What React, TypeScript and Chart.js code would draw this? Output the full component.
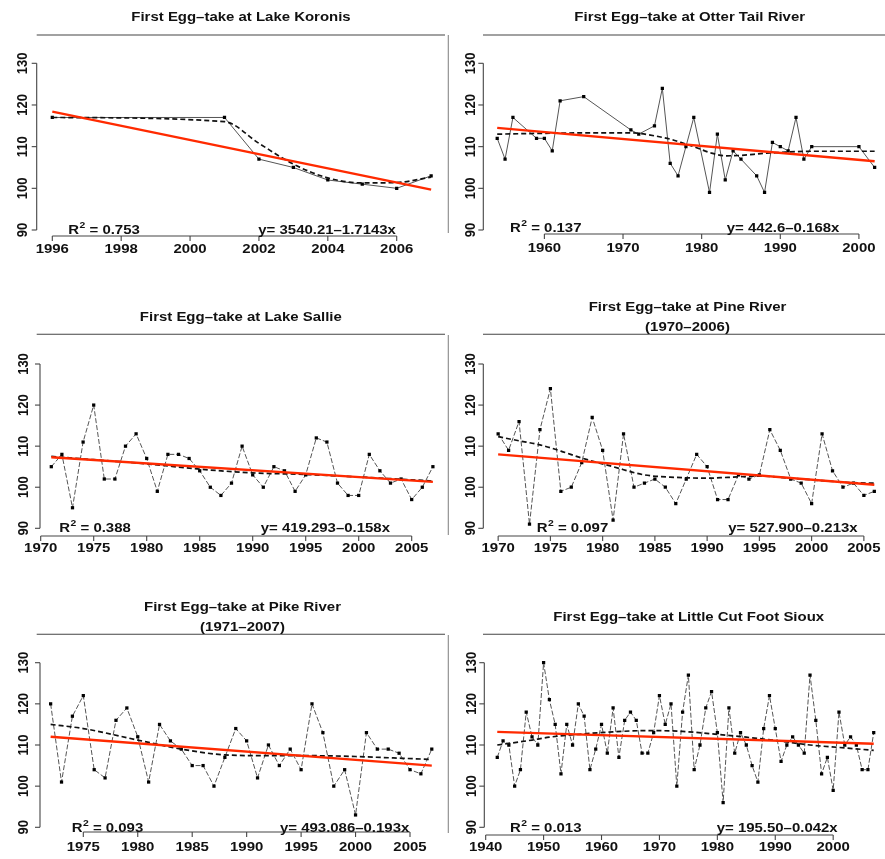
import { useEffect, useRef } from "react";
import { Chart, registerables } from "chart.js";

Chart.register(...registerables);

const W = 885;
const H = 859;

const yTickValues = [90, 100, 110, 120, 130];

// ---- Lake Koronis ----
const koronisYears = [1996, 2001, 2002, 2003, 2004, 2005, 2006, 2007];
const koronisDays = [117, 117, 107, 105, 102, 101, 100, 103];
const koronisSmoothYears = [1996, 2001, 2002, 2003, 2004, 2005, 2006, 2007];
const koronisSmoothDays = [117, 116, 110.8, 105.8, 102.5, 101.3, 101.4, 102.7];
const koronisFitYears = [1996, 2007];
const koronisFitDays = [118.4, 99.7];
const koronisTicks = [1996, 1998, 2000, 2002, 2004, 2006];

// ---- Otter Tail River ----
const otterYears = [1954, 1955, 1956, 1959, 1960, 1961, 1962, 1965, 1971, 1972, 1974, 1975, 1976, 1977, 1978, 1979, 1981, 1982, 1983, 1984, 1985, 1987, 1988, 1989, 1990, 1991, 1992, 1993, 1994, 2000, 2002];
const otterDays = [112, 107, 117, 112, 112, 109, 121, 122, 114, 113, 115, 124, 106, 103, 110, 117, 99, 113, 102, 109, 107, 103, 99, 111, 110, 109, 117, 107, 110, 110, 105];
const otterSmoothYears = [1954, 1960, 1965, 1971, 1972, 1974, 1976, 1978, 1979, 1981, 1983, 1985, 1988, 1990, 1992, 1994, 2000, 2002];
const otterSmoothDays = [113, 113.2, 113.3, 113.3, 113.2, 112.6, 111.8, 110.6, 110, 108.6, 107.8, 107.9, 108.4, 108.6, 108.8, 108.9, 108.9, 108.9];
const otterFitYears = [1954, 2002];
const otterFitDays = [114.5, 106.5];
const otterTicks = [1960, 1970, 1980, 1990, 2000];

// ---- Lake Sallie ----
const sallieYears = [1971, 1972, 1973, 1974, 1975, 1976, 1977, 1978, 1979, 1980, 1981, 1982, 1983, 1984, 1985, 1986, 1987, 1988, 1989, 1990, 1991, 1992, 1993, 1994, 1995, 1996, 1997, 1998, 1999, 2000, 2001, 2002, 2003, 2004, 2005, 2006, 2007];
const sallieDays = [105, 108, 95, 111, 120, 102, 102, 110, 113, 107, 99, 108, 108, 107, 104, 100, 98, 101, 110, 103, 100, 105, 104, 99, 103, 112, 111, 101, 98, 98, 108, 104, 101, 102, 97, 100, 105];
const sallieSmoothYears = [1971, 1975, 1980, 1985, 1990, 1995, 2000, 2005, 2007];
const sallieSmoothDays = [107.5, 106.7, 105.7, 104.4, 103.5, 103.1, 102.5, 101.8, 101.5];
const sallieFitYears = [1971, 2007];
const sallieFitDays = [107.3, 101.3];
const sallieTicks = [1970, 1975, 1980, 1985, 1990, 1995, 2000, 2005];

// ---- Pine River ----
const pineYears = [1970, 1971, 1972, 1973, 1974, 1975, 1976, 1977, 1978, 1979, 1980, 1981, 1982, 1983, 1984, 1985, 1986, 1987, 1988, 1989, 1990, 1991, 1992, 1993, 1994, 1995, 1996, 1997, 1998, 1999, 2000, 2001, 2002, 2003, 2004, 2005, 2006];
const pineDays = [113, 109, 116, 91, 114, 124, 99, 100, 106, 117, 109, 92, 113, 100, 101, 102, 100, 96, 102, 108, 105, 97, 97, 103, 102, 103, 114, 109, 102, 101, 96, 113, 104, 100, 101, 98, 99];
const pineSmoothYears = [1970, 1972, 1974, 1976, 1978, 1981, 1984, 1987, 1990, 1992, 1995, 1998, 2001, 2004, 2006];
const pineSmoothDays = [112.3, 111.3, 110.3, 108.8, 107.1, 105, 103, 102.4, 102.2, 102.4, 102.7, 102.2, 101.6, 101.1, 101.0];
const pineFitYears = [1970, 2006];
const pineFitDays = [108.0, 100.6];
const pineTicks = [1970, 1975, 1980, 1985, 1990, 1995, 2000, 2005];

// ---- Pike River ----
const pikeYears = [1972, 1973, 1974, 1975, 1976, 1977, 1978, 1979, 1980, 1981, 1982, 1983, 1984, 1985, 1986, 1987, 1988, 1989, 1990, 1991, 1992, 1993, 1994, 1995, 1996, 1997, 1998, 1999, 2000, 2001, 2002, 2003, 2004, 2005, 2006, 2007];
const pikeDays = [120, 101, 117, 122, 104, 102, 116, 119, 112, 101, 115, 111, 109, 105, 105, 100, 107, 114, 111, 102, 110, 105, 109, 104, 120, 113, 100, 104, 93, 113, 109, 109, 108, 104, 103, 109];
const pikeSmoothYears = [1972, 1975, 1980, 1984, 1988, 1992, 1996, 2000, 2004, 2007];
const pikeSmoothDays = [115.0, 114.0, 111.2, 109.0, 107.6, 107.4, 107.4, 107.2, 106.8, 106.5];
const pikeFitYears = [1972, 2007];
const pikeFitDays = [112.0, 105.0];
const pikeTicks = [1975, 1980, 1985, 1990, 1995, 2000, 2005];

// ---- Little Cut Foot Sioux ----
const siouxYears = [1942, 1943, 1944, 1945, 1946, 1947, 1948, 1949, 1950, 1951, 1952, 1953, 1954, 1955, 1956, 1957, 1958, 1959, 1960, 1961, 1962, 1963, 1964, 1965, 1966, 1967, 1968, 1969, 1970, 1971, 1972, 1973, 1974, 1975, 1976, 1977, 1978, 1979, 1980, 1981, 1982, 1983, 1984, 1985, 1986, 1987, 1988, 1989, 1990, 1991, 1992, 1993, 1994, 1995, 1996, 1997, 1998, 1999, 2000, 2001, 2002, 2003, 2004, 2005, 2006, 2007];
const siouxDays = [107, 111, 110, 100, 104, 118, 112, 110, 130, 121, 115, 103, 115, 110, 120, 117, 104, 109, 115, 108, 119, 107, 116, 118, 116, 108, 108, 113, 122, 115, 120, 100, 118, 127, 104, 110, 119, 123, 113, 96, 119, 108, 113, 110, 105, 101, 114, 122, 114, 106, 110, 112, 110, 108, 127, 116, 103, 107, 99, 118, 110, 112, 110, 104, 104, 113];
const siouxSmoothYears = [1942, 1948, 1951, 1957, 1962, 1968, 1974, 1979, 1985, 1990, 1996, 2001, 2007];
const siouxSmoothDays = [110, 111.2, 111.9, 112.7, 113.2, 113.5, 113.3, 112.7, 111.9, 111.1, 110.0, 109.4, 108.7];
const siouxFitYears = [1942, 2007];
const siouxFitDays = [113.2, 110.3];
const siouxTicks = [1940, 1950, 1960, 1970, 1980, 1990, 2000];

type Panel = {
  title: string[];
  titleX: number;
  titleY: number[];
  years: number[];
  days: number[];
  smoothYears: number[];
  smoothDays: number[];
  fitYears: number[];
  fitDays: number[];
  ticks: number[];
  dashed: boolean;
  left: number;
  right: number;
  top: number;
  bottom: number;
  xAnchor: number[];
  yAnchor: number[];
  yLabOff: number;
  xLabOff: number;
  r2: string;
  r2X: number;
  eq: string;
  eqX: number;
  annY: number;
  frameTop: number[];
  frameLeft?: number[];
};

const PANELS: Panel[] = [
  {
    title: ["First Egg\u2013take at Lake Koronis"], titleX: 241, titleY: [16],
    years: koronisYears, days: koronisDays, smoothYears: koronisSmoothYears, smoothDays: koronisSmoothDays,
    fitYears: koronisFitYears, fitDays: koronisFitDays, ticks: koronisTicks, dashed: false,
    left: 36.7, right: 446.3, top: 57, bottom: 236, xAnchor: [1996, 52.3, 2006, 396.7], yAnchor: [90, 230, 130, 63.3],
    yLabOff: 15, xLabOff: 12.3, r2: "0.753", r2X: 68.3, eq: "y= 3540.21\u20131.7143x", eqX: 258.3, annY: 229.3,
    frameTop: [36.7, 445, 35],
  },
  {
    title: ["First Egg\u2013take at Otter Tail River"], titleX: 689.7, titleY: [16],
    years: otterYears, days: otterDays, smoothYears: otterSmoothYears, smoothDays: otterSmoothDays,
    fitYears: otterFitYears, fitDays: otterFitDays, ticks: otterTicks, dashed: false,
    left: 483.3, right: 885, top: 59, bottom: 234, xAnchor: [1960, 545, 2000, 862.7], yAnchor: [90, 230, 130, 63.3],
    yLabOff: 13.5, xLabOff: 13.3, r2: "0.137", r2X: 510, eq: "y= 442.6\u20130.168x", eqX: 726.7, annY: 227.3,
    frameTop: [483, 885, 35], frameLeft: [448.3, 35, 233],
  },
  {
    title: ["First Egg\u2013take at Lake Sallie"], titleX: 240.8, titleY: [316.7],
    years: sallieYears, days: sallieDays, smoothYears: sallieSmoothYears, smoothDays: sallieSmoothDays,
    fitYears: sallieFitYears, fitDays: sallieFitDays, ticks: sallieTicks, dashed: true,
    left: 40, right: 445, top: 356, bottom: 536, xAnchor: [1970, 40.7, 2005, 411.7], yAnchor: [90, 528.3, 130, 364],
    yLabOff: 17, xLabOff: 11.3, r2: "0.388", r2X: 59.3, eq: "y= 419.293\u20130.158x", eqX: 260.7, annY: 527.3,
    frameTop: [36.7, 445, 334.3],
  },
  {
    title: ["First Egg\u2013take at Pine River", "(1970\u20132006)"], titleX: 687.5, titleY: [306, 326],
    years: pineYears, days: pineDays, smoothYears: pineSmoothYears, smoothDays: pineSmoothDays,
    fitYears: pineFitYears, fitDays: pineFitDays, ticks: pineTicks, dashed: true,
    left: 483.3, right: 885, top: 356, bottom: 536, xAnchor: [1970, 498.3, 2005, 867.7], yAnchor: [90, 528.3, 130, 364],
    yLabOff: 13.5, xLabOff: 11.3, r2: "0.097", r2X: 536.7, eq: "y= 527.900\u20130.213x", eqX: 728.3, annY: 527.3,
    frameTop: [483, 885, 334.3], frameLeft: [448.3, 335, 535],
  },
  {
    title: ["First Egg\u2013take at Pike River", "(1971\u20132007)"], titleX: 242.5, titleY: [606, 626],
    years: pikeYears, days: pikeDays, smoothYears: pikeSmoothYears, smoothDays: pikeSmoothDays,
    fitYears: pikeFitYears, fitDays: pikeFitDays, ticks: pikeTicks, dashed: true,
    left: 40, right: 445, top: 657, bottom: 832, xAnchor: [1975, 83.3, 2005, 410], yAnchor: [90, 827.3, 130, 662.7],
    yLabOff: 17, xLabOff: 14.4, r2: "0.093", r2X: 71.7, eq: "y= 493.086\u20130.193x", eqX: 280, annY: 827.3,
    frameTop: [36.7, 445, 634.3],
  },
  {
    title: ["First Egg\u2013take at Little Cut Foot Sioux"], titleX: 688.7, titleY: [616.7],
    years: siouxYears, days: siouxDays, smoothYears: siouxSmoothYears, smoothDays: siouxSmoothDays,
    fitYears: siouxFitYears, fitDays: siouxFitDays, ticks: siouxTicks, dashed: true,
    left: 484.3, right: 885, top: 655, bottom: 835, xAnchor: [1940, 485.7, 2000, 836.7], yAnchor: [90, 827.3, 130, 662.7],
    yLabOff: 14, xLabOff: 11.7, r2: "0.013", r2X: 510, eq: "y= 195.50\u20130.042x", eqX: 716.7, annY: 827.3,
    frameTop: [483, 885, 634.3], frameLeft: [448.3, 635, 833],
  },
];

const FAMILY = "'Liberation Sans', Arial, Helvetica, sans-serif";
const FONT = `bold 13px ${FAMILY}`;
const SUP_FONT = `bold 9px ${FAMILY}`;
const SX = 1.15;
const CAP = 9.3;
const TEXT_COLOR = "#111";
const AXIS_COLOR = "#444";

function valueRange(anchor: number[], lo: number, hi: number): [number, number] {
  const [v1, p1, v2, p2] = anchor;
  const k = (v2 - v1) / (p2 - p1);
  return [v1 + (lo - p1) * k, v1 + (hi - p1) * k];
}

function stretched(ctx: CanvasRenderingContext2D, text: string, x: number, y: number, align: CanvasTextAlign, font = FONT) {
  ctx.save();
  ctx.font = font;
  ctx.textAlign = align;
  ctx.textBaseline = "alphabetic";
  ctx.translate(x, y);
  ctx.scale(SX, 1);
  ctx.fillText(text, 0, 0);
  ctx.restore();
}

function textWidth(ctx: CanvasRenderingContext2D, text: string, font = FONT) {
  ctx.save();
  ctx.font = font;
  const w = ctx.measureText(text).width * SX;
  ctx.restore();
  return w;
}

function seg(ctx: CanvasRenderingContext2D, x1: number, y1: number, x2: number, y2: number) {
  ctx.beginPath();
  ctx.moveTo(x1, y1);
  ctx.lineTo(x2, y2);
  ctx.stroke();
}

function rPlugin(p: Panel) {
  return {
    id: "rStyleAxes",
    afterDraw(chart: any) {
      const ctx: CanvasRenderingContext2D = chart.ctx;
      const xs = chart.scales.x;
      const ys = chart.scales.y;
      const a = chart.chartArea;
      ctx.save();
      ctx.strokeStyle = AXIS_COLOR;
      ctx.fillStyle = TEXT_COLOR;
      ctx.lineWidth = 1.1;
      ctx.setLineDash([]);

      // frame remnants
      seg(ctx, p.frameTop[0], p.frameTop[2], p.frameTop[1], p.frameTop[2]);
      if (p.frameLeft) {
        ctx.strokeStyle = "#888";
        seg(ctx, p.frameLeft[0], p.frameLeft[1], p.frameLeft[0], p.frameLeft[2]);
        ctx.strokeStyle = AXIS_COLOR;
      }

      // y axis
      const yTop = ys.getPixelForValue(yTickValues[yTickValues.length - 1]);
      const yBot = ys.getPixelForValue(yTickValues[0]);
      seg(ctx, a.left, yBot, a.left, yTop);
      yTickValues.forEach((v) => {
        const py = ys.getPixelForValue(v);
        seg(ctx, a.left - 5, py, a.left, py);
        ctx.save();
        ctx.font = FONT;
        ctx.textAlign = "center";
        ctx.textBaseline = "alphabetic";
        ctx.translate(a.left - p.yLabOff, py);
        ctx.scale(SX, 1);
        ctx.rotate(-Math.PI / 2);
        ctx.fillText(String(v), 0, CAP / 2);
        ctx.restore();
      });

      // x axis
      const x0 = xs.getPixelForValue(p.ticks[0]);
      const x1 = xs.getPixelForValue(p.ticks[p.ticks.length - 1]);
      seg(ctx, x0, a.bottom, x1, a.bottom);
      p.ticks.forEach((t) => {
        const px = xs.getPixelForValue(t);
        seg(ctx, px, a.bottom, px, a.bottom + 5);
        stretched(ctx, String(t), px, a.bottom + p.xLabOff + CAP / 2, "center");
      });

      // title
      p.title.forEach((line, i) => {
        stretched(ctx, line, p.titleX, p.titleY[i] + CAP / 2, "center");
      });

      // R^2 and equation
      const base = p.annY + CAP / 2;
      let cx = p.r2X;
      stretched(ctx, "R", cx, base, "left");
      cx += textWidth(ctx, "R");
      stretched(ctx, "2", cx + 0.5, base - 6, "left", SUP_FONT);
      cx += textWidth(ctx, "2", SUP_FONT) + 0.5;
      stretched(ctx, " = " + p.r2, cx, base, "left");
      stretched(ctx, p.eq, p.eqX, base, "left");

      ctx.restore();
    },
  };
}

function makeChart(canvas: HTMLCanvasElement, p: Panel) {
  const [xmin, xmax] = valueRange(p.xAnchor, p.left, p.right);
  const [ymin, ymax] = valueRange(p.yAnchor, p.bottom, p.top);
  const pts = (xs: number[], ys: number[]) => xs.map((x, i) => ({ x, y: ys[i] }));
  return new Chart(canvas, {
    type: "line",
    data: {
      datasets: [
        {
          data: pts(p.fitYears, p.fitDays),
          borderColor: "#ff2a00",
          borderWidth: 2.4,
          pointRadius: 0,
          tension: 0,
        },
        {
          data: pts(p.smoothYears, p.smoothDays),
          borderColor: "#111",
          borderWidth: 1.7,
          borderDash: [5, 3],
          pointRadius: 0,
          cubicInterpolationMode: "monotone",
        },
        {
          data: pts(p.years, p.days),
          borderColor: "#555",
          borderWidth: 1,
          borderDash: p.dashed ? [5, 2] : [],
          pointRadius: 2.3,
          pointStyle: "rect",
          pointBorderWidth: 0,
          pointBackgroundColor: "#000",
          tension: 0,
        },
      ],
    } as any,
    options: {
      animation: false,
      responsive: false,
      devicePixelRatio: 1,
      events: [],
      layout: { padding: { left: p.left, top: p.top, right: W - p.right, bottom: H - p.bottom } },
      scales: {
        x: { type: "linear", display: false, min: xmin, max: xmax },
        y: { type: "linear", display: false, min: ymin, max: ymax },
      },
      plugins: {
        legend: { display: false },
        tooltip: { enabled: false },
        title: { display: false },
      },
    } as any,
    plugins: [rPlugin(p)],
  });
}

export default function App() {
  const refs = useRef<(HTMLCanvasElement | null)[]>([]);
  useEffect(() => {
    const charts = PANELS.map((p, i) => makeChart(refs.current[i] as HTMLCanvasElement, p));
    return () => charts.forEach((c) => c.destroy());
  }, []);
  return (
    <div style={{ position: "absolute", left: 0, top: 0, width: W, height: H, background: "#fff", overflow: "hidden" }}>
      {PANELS.map((_, i) => (
        <canvas
          key={i}
          ref={(el) => {
            refs.current[i] = el;
          }}
          width={W}
          height={H}
          style={{ position: "absolute", left: 0, top: 0, width: W, height: H }}
        />
      ))}
    </div>
  );
}
